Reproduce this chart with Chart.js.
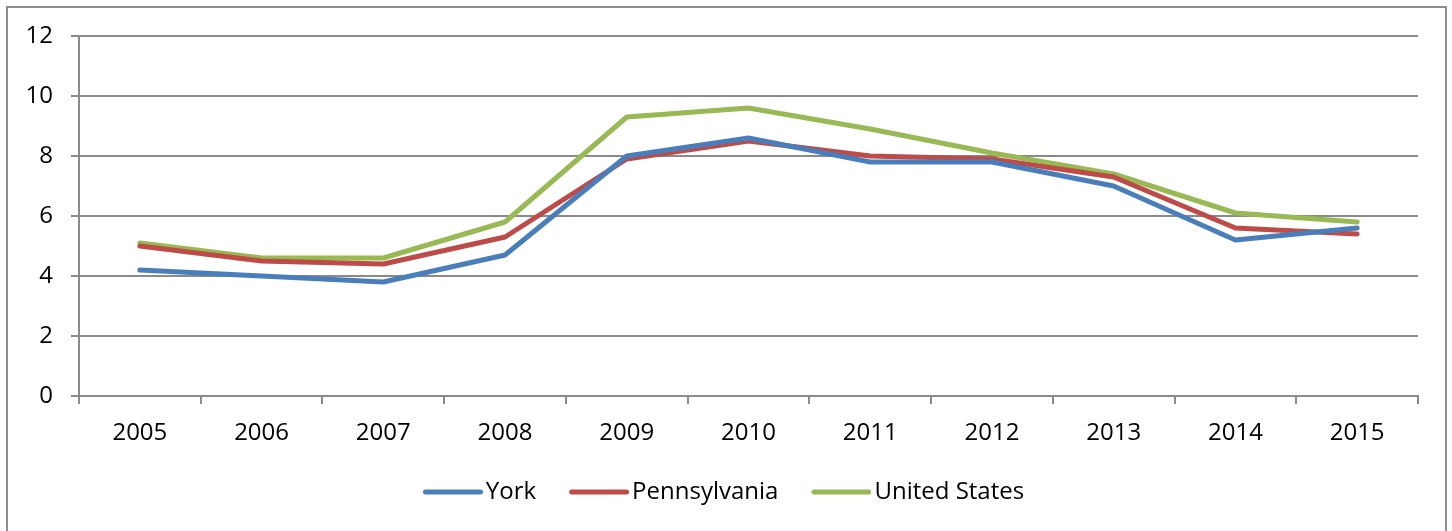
<!DOCTYPE html>
<html>
<head>
<meta charset="utf-8">
<script src="https://cdn.jsdelivr.net/npm/chart.js@4/dist/chart.umd.min.js"></script>
<style>
  html, body { margin: 0; padding: 0; background: #fff; overflow: hidden; }
  #wrap { position: relative; width: 1452px; height: 531px; }
  #frame { position: absolute; left: 6px; top: 6px; width: 1441px; height: 560px;
           border: 2px solid #8e8e8e; box-sizing: border-box; pointer-events: none; }
  canvas { position: absolute; left: 0; top: 0; }
</style>
</head>
<body>
<div id="wrap">
  <canvas id="chart" width="1452" height="531"></canvas>
  <div id="frame"></div>
</div>
<script>
// unemployment rate, %
const years = ["2005", "2006", "2007", "2008", "2009", "2010", "2011", "2012", "2013", "2014", "2015"];
const york = [4.2, 4.0, 3.8, 4.7, 8.0, 8.6, 7.8, 7.8, 7.0, 5.2, 5.6];
const pennsylvania = [5.0, 4.5, 4.4, 5.3, 7.9, 8.5, 8.0, 7.9, 7.3, 5.6, 5.4];
const unitedStates = [5.1, 4.6, 4.6, 5.8, 9.3, 9.6, 8.9, 8.1, 7.4, 6.1, 5.8];

const palette = {
  york: "#4A7EBB",
  pa: "#BE4B48",
  us: "#98B954",
  grid: "#8a8a8a",
  text: "#000000"
};

const FONT = "'Open Sans', sans-serif";
const FONT_SIZE = 24;

// legend swatch: a round-capped line, offset right so it sits close to its label
function swatch(color) {
  const c = document.createElement("canvas");
  c.width = 78; c.height = 10;
  const g = c.getContext("2d");
  g.strokeStyle = color;
  g.lineWidth = 5;
  g.lineCap = "round";
  g.beginPath();
  g.moveTo(20.5, 5);
  g.lineTo(75.5, 5);
  g.stroke();
  return c;
}

function series(label, data, color) {
  return {
    label, data,
    borderColor: color,
    backgroundColor: color,
    borderWidth: 5,
    borderCapStyle: "round",
    borderJoinStyle: "round",
    pointRadius: 0,
    pointHoverRadius: 0,
    pointStyle: swatch(color),
    tension: 0,
    fill: false
  };
}

// nudge the legend row right, Excel centres it a bit differently
const shiftLegend = {
  id: "shiftLegend",
  afterLayout(chart) {
    chart.legend.left += 10;
    chart.legend.right += 10;
  }
};

new Chart(document.getElementById("chart").getContext("2d"), {
  type: "line",
  data: {
    labels: years,
    datasets: [
      series("York", york, palette.york),
      series("Pennsylvania", pennsylvania, palette.pa),
      series("United States", unitedStates, palette.us)
    ]
  },
  plugins: [shiftLegend],
  options: {
    responsive: false,
    animation: false,
    events: [],
    layout: { padding: { left: 0, top: 36, right: 34, bottom: 17 } },
    plugins: {
      tooltip: { enabled: false },
      legend: {
        position: "bottom",
        labels: {
          usePointStyle: true,
          pointStyleWidth: 60,
          boxHeight: 5,
          padding: 24,
          color: palette.text,
          font: { family: FONT, size: FONT_SIZE }
        }
      }
    },
    scales: {
      x: {
        offset: true,
        grid: {
          offset: true,
          drawOnChartArea: false,
          drawTicks: true,
          tickLength: 8,
          color: palette.grid,
          lineWidth: 2
        },
        border: { display: true, color: palette.grid, width: 2 },
        ticks: { color: palette.text, font: { family: FONT, size: FONT_SIZE }, padding: 15, maxRotation: 0 },
        afterFit: (s) => { s.height = 60; }
      },
      y: {
        min: 0, max: 12,
        grid: { color: palette.grid, lineWidth: 2, tickLength: 8 },
        border: { display: true, color: palette.grid, width: 2 },
        ticks: { stepSize: 2, color: palette.text, font: { family: FONT, size: FONT_SIZE }, padding: 18 },
        afterFit: (s) => { s.width = 79; }
      }
    }
  }
});
</script>
</body>
</html>
